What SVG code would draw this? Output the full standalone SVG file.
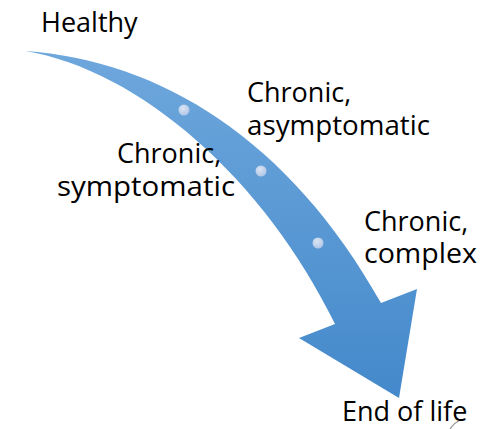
<svg xmlns="http://www.w3.org/2000/svg" width="483" height="429" viewBox="0 0 483 429">
<defs>
<linearGradient id="arrowGrad" x1="0" y1="0" x2="0" y2="1">
<stop offset="0" stop-color="#6ea7dc"/>
<stop offset="1" stop-color="#4489cb"/>
</linearGradient>
<radialGradient id="dotGrad" cx="0.4" cy="0.35" r="0.7">
<stop offset="0" stop-color="#dbe5f3"/>
<stop offset="1" stop-color="#aec4e6"/>
</radialGradient>
<style>
.lbl{font-family:"Open Sans","Liberation Sans",sans-serif;font-size:27px;fill:#000}
.dot{fill:url(#dotGrad)}
</style>
</defs>
<rect width="483" height="429" fill="#fff"/>
<g id="connectors">
<path id="arrow" d="M25,51 C160,60 290,140 381,303 L417,289 L399,398 L299,338 L335,324 C265,180 140,70 25,51 Z" fill="url(#arrowGrad)"/>
<circle class="dot" cx="184" cy="110" r="5.5"/>
<circle class="dot" cx="261" cy="171" r="5.5"/>
<circle class="dot" cx="318" cy="243" r="5.5"/>
</g>
<g id="healthy"><text class="lbl" x="41" y="32">Healthy</text></g>
<g id="asymptomatic"><text class="lbl" x="247" y="102">Chronic,</text><text class="lbl" x="247" y="135" textLength="183" lengthAdjust="spacingAndGlyphs">asymptomatic</text></g>
<g id="symptomatic"><text class="lbl" x="117" y="163">Chronic,</text><text class="lbl" x="57" y="196" textLength="178" lengthAdjust="spacingAndGlyphs">symptomatic</text></g>
<g id="complex"><text class="lbl" x="364" y="231">Chronic,</text><text class="lbl" x="364" y="263" textLength="113" lengthAdjust="spacingAndGlyphs">complex</text></g>
<g id="endoflife"><text class="lbl" x="342" y="421">End of life</text></g>
<path d="M450,429 Q454,423 459,421" fill="none" stroke="#999" stroke-width="1.3"/>
</svg>
